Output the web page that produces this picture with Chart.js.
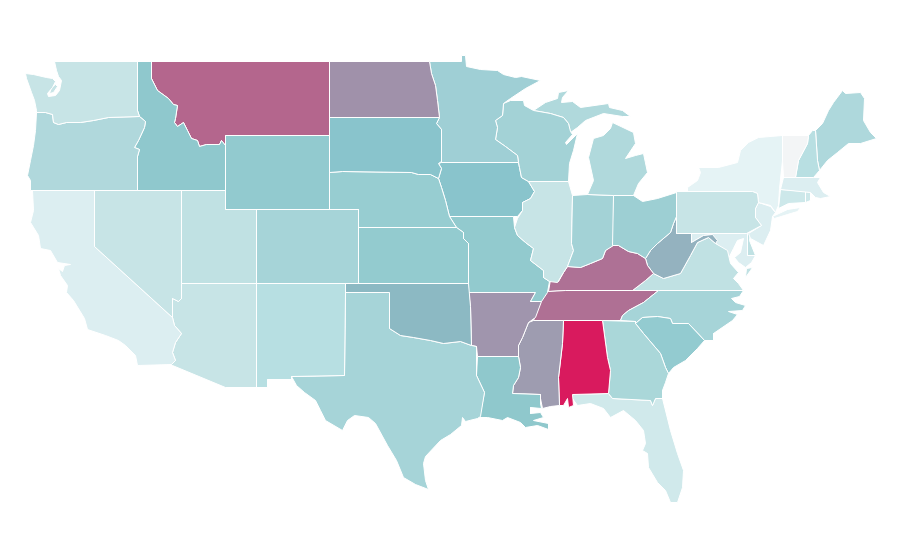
<!DOCTYPE html>
<html>
<head>
<meta charset="utf-8">
<title>US states choropleth</title>
<style>html,body{margin:0;padding:0;background:#fff}canvas{display:block}</style>
<script src="https://cdn.jsdelivr.net/npm/chart.js@4/dist/chart.umd.js"></script>
</head>
<body>
<canvas id="map" width="900" height="560"></canvas>
<script>
// State outlines in map units (x 0-900, y 0-560).
const WA=[[54,61],[137,61],[137,110],[139,116],[108,117],[93,120],[80,122],[66,122],[58,124],[53,122],[52,114],[45,112],[36,112],[36,110],[34,100],[31,92],[26,78],[25,73],[33,74],[46,77],[52,78],[55,81],[52,87],[47,93],[48,96],[55,95],[59,90],[61,80],[58,76],[56,70]];
const WA_KITSAP=[[51,87],[55,84],[57,86],[53,92],[49,93]];
const OR=[[36,112],[45,112],[52,114],[53,122],[58,124],[66,122],[80,122],[93,120],[108,117],[139,116],[145,121],[144,127],[138,140],[134,147],[139,149],[137,156],[137,190],[30,190],[30,180],[27,175],[30,160],[33,145],[35,130]];
const ID=[[137,61],[151,61],[151,78],[157,90],[168,98],[173,104],[177,105],[175,118],[174,122],[177,126],[183,122],[187,130],[191,138],[197,140],[199,146],[206,144],[219,144],[221,140],[225,145],[225,190],[137,190],[137,156],[139,149],[134,147],[138,140],[144,127],[145,121],[139,116],[137,110]];
const MT=[[151,61],[329,61],[329,135],[225,135],[225,145],[221,140],[219,144],[206,144],[199,146],[197,140],[191,138],[187,130],[183,122],[177,126],[174,122],[175,118],[177,105],[173,104],[168,98],[157,90],[151,78]];
const WY=[[225,135],[329,135],[329,209],[225,209]];
const UT=[[181,190],[225,190],[225,209],[256,209],[256,283],[181,283]];
const NV=[[94,190],[181,190],[181,298],[178,301],[172,298],[172,310],[172,317],[94,246]];
const CA=[[32,190],[94,190],[94,246],[172,317],[174,325],[181,333],[175,342],[172,352],[175,360],[171,364],[137,365],[135,355],[125,345],[118,340],[105,335],[87,329],[84,318],[73,300],[66,292],[67,285],[60,275],[58,268],[62,271],[64,265],[70,264],[57,262],[50,250],[40,248],[38,235],[30,222],[33,210]];
const AZ=[[181,283],[256,283],[256,387],[225,387],[172,365],[171,364],[175,360],[172,352],[175,342],[181,333],[174,325],[172,317],[172,298],[178,301],[181,298]];
const NM=[[256,283],[345,283],[345,292],[344,375],[291,376],[291,379],[267,379],[267,387],[256,387]];
const CO=[[256,209],[358,209],[358,283],[256,283]];
const ND=[[329,61],[429,61],[431,73],[435,85],[437,100],[439,117],[329,117]];
const SD=[[329,117],[439,117],[436,123],[441,129],[441,161],[438,163],[441,168],[438,178],[430,174],[418,174],[411,172],[342,171],[329,172]];
const NE=[[329,172],[342,171],[411,172],[418,174],[430,174],[438,178],[441,187],[445,200],[449,216],[456,227],[358,227],[358,209],[329,209]];
const KS=[[358,227],[456,227],[463,232],[463,238],[468,243],[468,283],[358,283]];
const OK=[[345,283],[468,283],[470,306],[471,345],[460,341],[443,343],[430,340],[413,337],[400,335],[389,328],[389,292],[345,292]];
const TX=[[345,292],[389,292],[389,328],[400,335],[413,337],[430,340],[443,343],[460,341],[471,345],[476,346],[476,375],[484,392],[480,416],[477,418],[465,421],[462,417],[461,425],[450,434],[440,440],[425,456],[423,463],[425,480],[428,489],[415,484],[403,477],[396,460],[387,445],[375,423],[368,417],[354,415],[347,420],[342,430],[325,420],[320,410],[315,400],[304,392],[296,385],[291,376],[344,375]];
const MN=[[429,61],[461,61],[461,55],[465,55],[466,66],[480,69],[497,70],[503,74],[515,77],[521,76],[540,80],[525,88],[510,98],[503,103],[502,115],[495,120],[497,127],[495,139],[505,146],[517,155],[518,162],[441,162],[441,129],[436,123],[439,117],[437,100],[435,85],[431,73]];
const WI=[[503,103],[510,100],[523,100],[524,105],[533,110],[550,113],[563,117],[568,123],[570,131],[572,134],[565,142],[566,144],[577,133],[573,150],[569,163],[568,181],[528,181],[521,177],[519,167],[518,162],[517,155],[505,146],[495,139],[497,127],[495,120],[502,115]];
const MI_UPPER=[[533,110],[545,102],[557,98],[558,92],[568,90],[562,97],[561,102],[572,101],[580,107],[608,103],[609,107],[622,110],[630,116],[622,116],[603,113],[585,120],[577,127],[570,132],[568,123],[563,117],[550,113]];
const MI_LOWER=[[612,122],[633,132],[635,143],[625,158],[635,155],[643,153],[647,172],[638,183],[633,195],[613,195],[587,194],[593,180],[588,157],[593,138],[603,135],[610,128]];
const OH=[[613,195],[633,195],[642,201],[657,198],[676,192],[676,216],[673,223],[670,232],[657,243],[650,250],[645,258],[637,253],[628,251],[618,245],[612,245]];
const IN=[[572,195],[587,194],[613,195],[613,245],[605,250],[602,258],[590,263],[580,267],[567,266],[573,250],[571,243]];
const IL=[[528,181],[568,181],[572,195],[571,243],[573,250],[567,266],[563,272],[557,282],[549,281],[543,277],[543,270],[530,260],[533,248],[525,242],[517,235],[514,227],[517,218],[522,210],[522,202],[530,198],[534,191]];
const IA=[[441,162],[518,162],[519,167],[521,177],[528,181],[534,191],[530,198],[522,202],[522,210],[517,216],[513,216],[449,216],[445,200],[441,187],[438,178],[441,168],[438,163]];
const MO=[[449,216],[513,216],[514,227],[517,235],[525,242],[533,248],[530,260],[543,270],[543,277],[549,281],[547,292],[541,301],[530,301],[535,292],[468,292],[468,243],[463,238],[463,232],[456,227]];
const AR=[[468,292],[535,292],[530,301],[541,301],[535,317],[528,322],[522,337],[518,345],[518,356],[477,356],[476,346],[471,345],[470,306]];
const LA=[[477,356],[518,356],[520,367],[518,377],[513,385],[512,393],[540,394],[540,403],[541,408],[530,407],[530,413],[540,412],[543,417],[533,420],[548,423],[548,429],[537,425],[525,427],[520,422],[507,417],[502,420],[487,417],[479,417],[484,392],[476,375]];
const MS=[[533,320],[563,320],[562,343],[558,377],[559,405],[550,406],[542,408],[540,398],[540,394],[512,393],[513,385],[518,377],[520,367],[518,356],[518,345],[522,337],[528,322]];
const AL=[[563,320],[602,320],[607,357],[610,370],[608,393],[572,394],[573,405],[568,407],[567,398],[563,405],[559,405],[558,377],[562,343]];
const GA=[[602,320],[635,321],[635,323],[643,333],[660,353],[665,367],[668,373],[665,382],[662,390],[662,398],[655,398],[652,405],[650,400],[612,398],[608,393],[610,370],[607,357]];
const FL=[[572,394],[608,393],[612,398],[650,400],[652,405],[655,398],[662,398],[670,430],[677,453],[683,470],[682,487],[677,502],[670,502],[665,490],[657,482],[648,467],[647,453],[642,450],[645,443],[643,430],[635,420],[623,410],[610,417],[603,408],[590,403],[577,405],[572,398]];
const SC=[[635,323],[642,317],[657,316],[670,318],[672,323],[688,323],[704,340],[697,348],[685,360],[673,367],[668,373],[665,367],[660,353],[643,333]];
const NC=[[658,290],[743,290],[739,296],[731,298],[735,302],[745,305],[742,310],[728,311],[737,314],[732,320],[713,333],[713,340],[704,340],[688,323],[672,323],[670,318],[657,316],[642,317],[635,323],[635,321],[620,320],[622,315],[628,310],[643,302]];
const TN=[[543,292],[548,291],[565,290],[658,290],[643,302],[628,310],[622,315],[620,320],[533,320],[540,302]];
const KY=[[548,291],[550,279],[558,281],[563,272],[567,266],[580,267],[590,263],[602,258],[605,250],[612,245],[618,245],[628,251],[637,253],[645,258],[647,265],[653,273],[645,280],[632,290],[565,290]];
const WV=[[645,258],[650,250],[657,243],[670,232],[673,223],[676,216],[676,233],[691,233],[691,242],[703,235],[712,234],[717,240],[715,243],[708,237],[697,242],[690,255],[680,273],[663,278],[653,273],[647,265]];
const VA=[[632,290],[645,280],[653,273],[663,278],[680,273],[690,255],[697,242],[708,237],[715,243],[727,250],[730,263],[738,272],[733,278],[738,283],[743,290]];
const VA_SHORE=[[752,267],[750,270],[745,277],[746,268]];
const PA=[[676,191],[752,191],[757,193],[758,202],[755,208],[755,217],[761,225],[746,233],[676,233]];
const NY=[[687,191],[687,187],[697,180],[700,172],[698,167],[718,167],[737,162],[740,150],[748,142],[758,137],[782,135],[782,160],[779,188],[778,205],[775,212],[770,205],[758,202],[757,193],[752,191]];
const NY_ISLAND=[[772,216],[787,209],[800,207],[797,211],[787,214],[774,218]];
const VT=[[782,135],[808,135],[807,143],[798,160],[795,177],[783,177],[782,160]];
const NH=[[808,135],[812,130],[815,130],[817,160],[819,170],[813,177],[795,177],[798,160],[807,143]];
const ME=[[815,130],[822,123],[828,110],[833,102],[842,90],[845,93],[860,92],[864,98],[863,120],[870,132],[876,138],[860,143],[848,143],[837,152],[827,160],[819,170],[817,160]];
const MA=[[783,177],[813,177],[820,177],[817,182],[823,192],[830,196],[820,198],[815,197],[810,192],[780,189]];
const RI=[[805,191],[810,192],[810,200],[805,202]];
const CT=[[780,189],[805,191],[805,202],[788,203],[778,208]];
const NJ=[[758,202],[770,206],[775,212],[772,216],[770,230],[763,245],[750,238],[748,233],[761,225],[755,217],[755,208]];
const DE=[[747,232],[750,232],[749,240],[755,255],[747,255]];
const MD=[[691,242],[691,233],[747,233],[747,255],[755,255],[751,262],[745,267],[738,262],[734,257],[740,252],[743,238],[737,240],[733,248],[728,258],[722,255],[716,244],[712,234],[703,235]];

const regions=["Washington","Washington","Oregon","Idaho","Montana","Wyoming","Utah","Nevada","California","Arizona","New Mexico","Colorado","North Dakota","South Dakota","Nebraska","Kansas","Oklahoma","Texas","Minnesota","Wisconsin","Michigan","Michigan","Ohio","Indiana","Illinois","Iowa","Missouri","Arkansas","Louisiana","Mississippi","Alabama","Georgia","Florida","South Carolina","North Carolina","Tennessee","Kentucky","West Virginia","Virginia","Virginia","Pennsylvania","New York","New York","Vermont","New Hampshire","Maine","Massachusetts","Rhode Island","Connecticut","New Jersey","Delaware","Maryland"];
const outlines=[WA,WA_KITSAP,OR,ID,MT,WY,UT,NV,CA,AZ,NM,CO,ND,SD,NE,KS,OK,TX,MN,WI,MI_UPPER,MI_LOWER,OH,IN,IL,IA,MO,AR,LA,MS,AL,GA,FL,SC,NC,TN,KY,WV,VA,VA_SHORE,PA,NY,NY_ISLAND,VT,NH,ME,MA,RI,CT,NJ,DE,MD];
const fills=["#c7e4e6","#c7e4e6","#b0d8dc","#8fc8cd","#b4668d","#92cacf","#c0e1e3","#c7e4e6","#dceef1","#c7e4e6","#b7dfe2","#a6d4d8","#a091aa","#89c4cc","#97cdd1","#93cbcf","#8cb9c3","#a6d4d8","#9fcfd5","#a3d2d6","#b0d9dc","#b0d9dc","#9dcfd3","#a3d2d6","#c7e4e6","#89c4cc","#92cace","#a095ad","#8fc8cc","#9e9cb0","#d91a5e","#aad7d9","#d0e9eb","#93cbd0","#a6d4d8","#af7094","#ae7195","#94b2bf","#c0e1e3","#c0e1e3","#c7e4e6","#e5f3f5","#e5f3f5","#f3f5f6","#b8dfe2","#aed8dc","#dceef1","#cde8ea","#cde8ea","#dceef1","#c0e1e3","#dceef1"];

new Chart(document.getElementById('map'),{
  type:'scatter',
  data:{datasets:outlines.map((o,i)=>({
    label:regions[i],
    data:o.concat([o[0]]).map(p=>({x:p[0],y:p[1]})),
    showLine:true,
    fill:'shape',
    tension:0,
    pointRadius:0,
    pointHitRadius:0,
    borderWidth:1,
    borderColor:'#ffffff',
    backgroundColor:fills[i]
  }))},
  options:{
    responsive:false,
    animation:false,
    layout:{padding:0},
    plugins:{legend:{display:false},title:{display:false},tooltip:{enabled:false}},
    scales:{
      x:{type:'linear',display:false,min:-0.5,max:899.5},
      y:{type:'linear',display:false,min:-0.5,max:559.5,reverse:true}
    }
  }
});
</script>
</body>
</html>
